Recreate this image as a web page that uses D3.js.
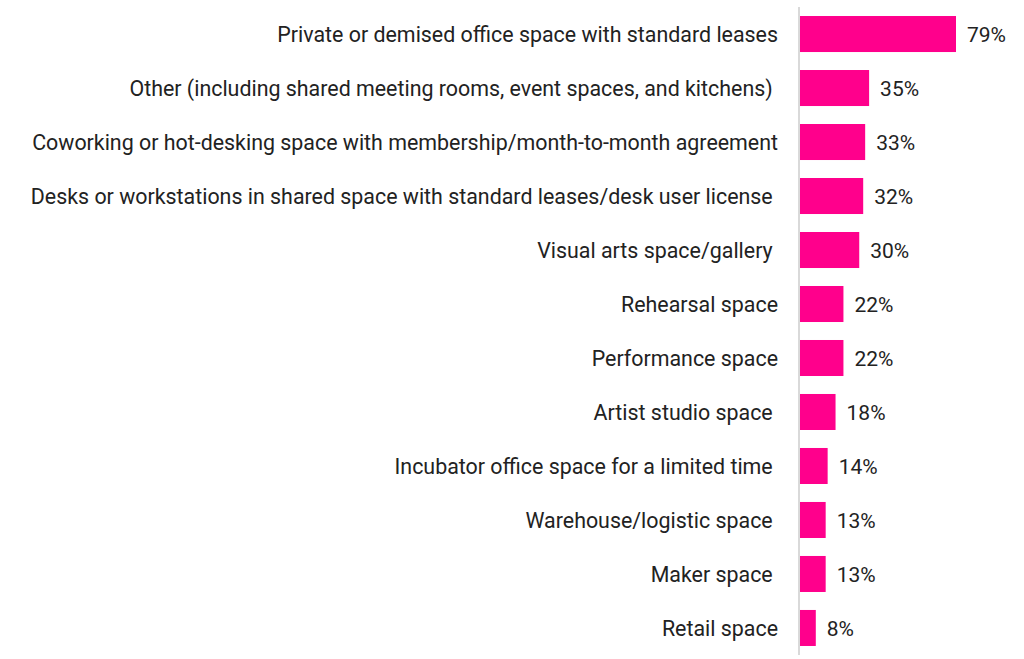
<!DOCTYPE html>
<html><head><meta charset="utf-8">
<script src="https://cdn.jsdelivr.net/npm/d3@7"></script>
<style>body{margin:0;background:#fff}svg{display:block}text{font-family:Roboto,sans-serif;white-space:pre}</style>
</head><body>
<svg id="c" width="1024" height="659"></svg>
<script>
const categories = [
  "Private or demised office space with standard leases",
  "Other (including shared meeting rooms, event spaces, and kitchens) ",
  "Coworking or hot-desking space with membership/month-to-month agreement",
  "Desks or workstations in shared space with standard leases/desk user license ",
  "Visual arts space/gallery ",
  "Rehearsal space",
  "Performance space",
  "Artist studio space ",
  "Incubator office space for a limited time ",
  "Warehouse/logistic space ",
  "Maker space ",
  "Retail space"
];
const values = [79, 35, 33, 32, 30, 22, 22, 18, 14, 13, 13, 8];

const svg = d3.select("#c");
const x = d3.scaleLinear().domain([0, 79]).range([800, 956]);
const y = d3.scaleBand().domain(categories).range([7, 655]).paddingInner(0.333).paddingOuter(0.167);

svg.selectAll("rect.bar").data(values).join("rect")
  .attr("class","bar")
  .attr("x", x(0)).attr("y", (d,i)=>y(categories[i]))
  .attr("width", d=>x(d)-x(0)).attr("height", y.bandwidth())
  .attr("fill", "#ff008c");

svg.append("line").attr("x1",799).attr("x2",799).attr("y1",7).attr("y2",655)
  .attr("stroke","#d9d9d9").attr("stroke-width",2);

svg.selectAll("text.lab").data(categories).join("text")
  .attr("class","lab")
  .attr("x", 778).attr("y", d=>y(d)+y.bandwidth()/2)
  .attr("dy","0.38em").attr("text-anchor","end")
  .attr("font-size", 21.4).attr("fill","#222")
  .text(d=>d.replace(/ $/, "\u00a0"));

svg.selectAll("text.val").data(values).join("text")
  .attr("class","val")
  .attr("x", d=>x(d)+11).attr("y", (d,i)=>y(categories[i])+y.bandwidth()/2)
  .attr("dy","0.38em")
  .attr("font-size", 21).attr("fill","#222")
  .text(d=>d+"%");
</script>
</body></html>
